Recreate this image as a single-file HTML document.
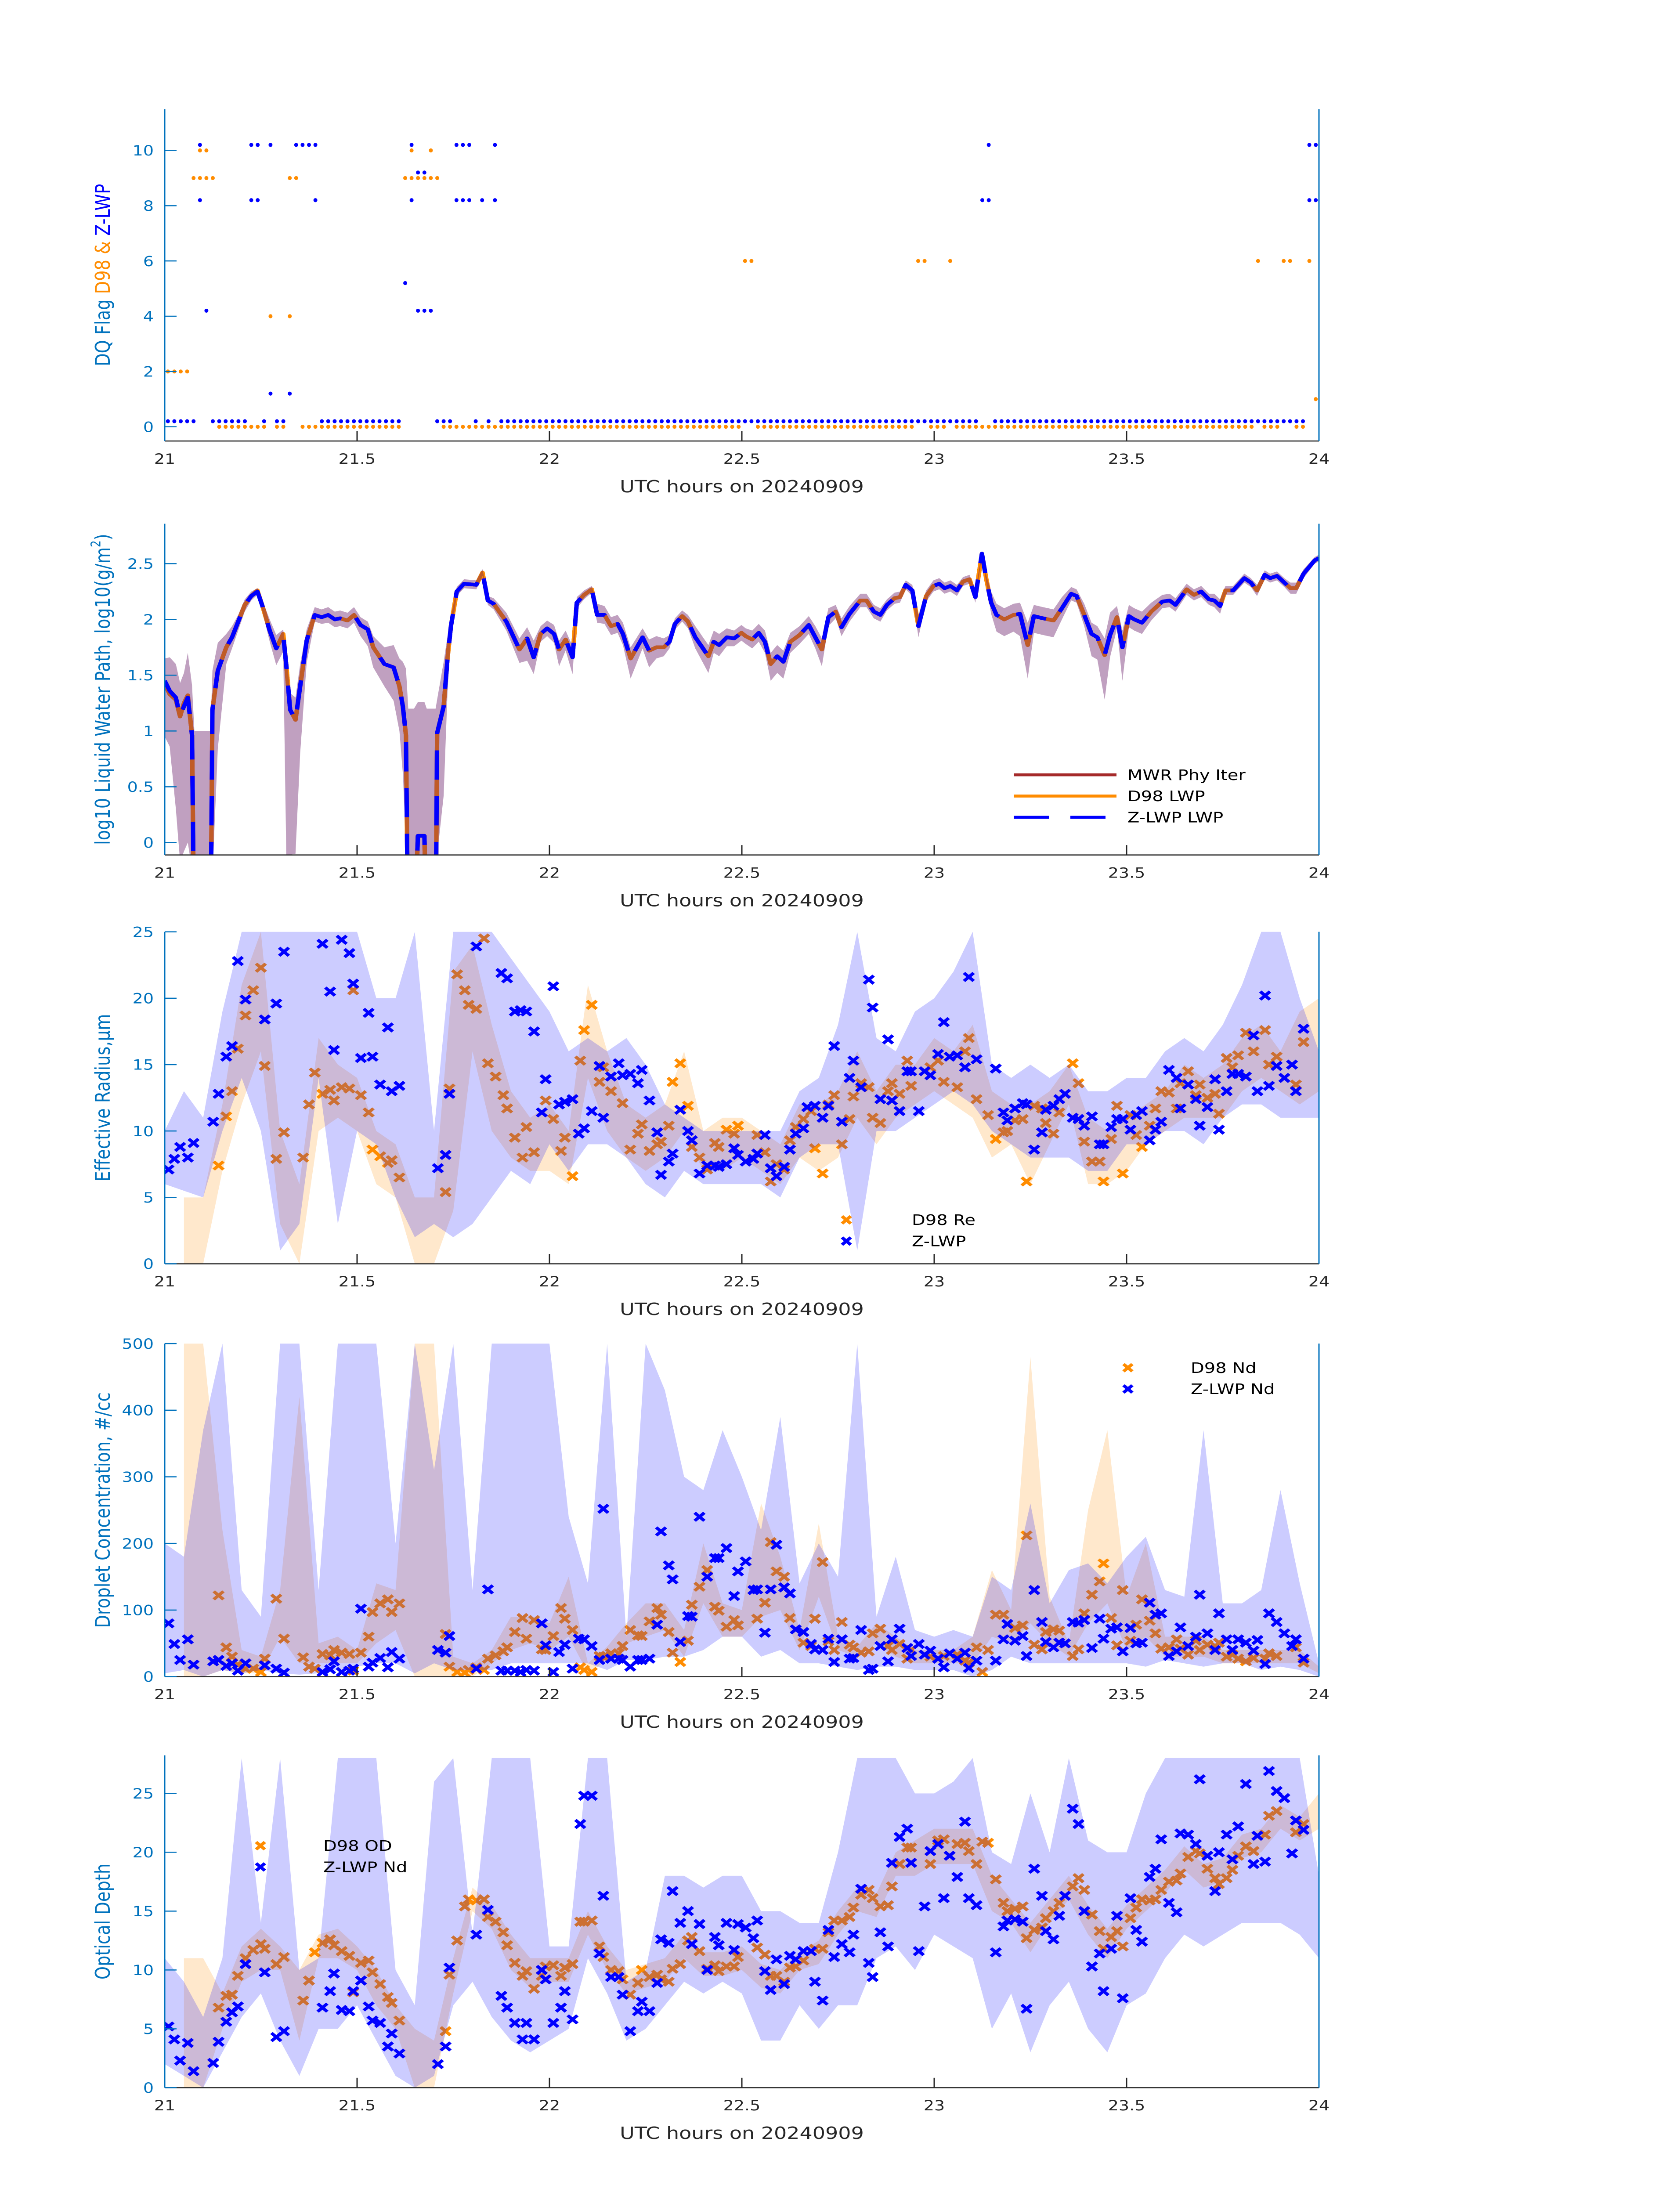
<!DOCTYPE html>
<html><head><meta charset="utf-8"><title>Cloud retrievals 20240909</title>
<style>
html,body{margin:0;padding:0;background:#fff;width:100%;height:100%;overflow:hidden;}
svg{display:block;position:absolute;left:0;top:0;width:100vw;height:100vh;}
text{font-family:"DejaVu Sans","Liberation Sans",sans-serif;}
</style></head>
<body>
<svg id="fig" xmlns="http://www.w3.org/2000/svg" viewBox="0 0 3825 6000" preserveAspectRatio="none">
<rect x="0" y="0" width="3825" height="6000" fill="#fff"/>
<defs>
<clipPath id="c1"><rect x="375" y="298" width="2628" height="907"/></clipPath>
<clipPath id="c2"><rect x="375" y="1431" width="2628" height="905"/></clipPath>
<clipPath id="c3"><rect x="375" y="2546" width="2628" height="907"/></clipPath>
<clipPath id="c4"><rect x="375" y="3671" width="2628" height="910"/></clipPath>
<clipPath id="c5"><rect x="375" y="4796" width="2628" height="908"/></clipPath>
</defs>
</svg>
<script>
// ---------------- DATA ----------------
const xTicks = [21, 21.5, 22, 22.5, 23, 23.5, 24];
const xTickLabels = ['21', '21.5', '22', '22.5', '23', '23.5', '24'];

// Panel 1: DQ flags, runs of minute indices [start, end, flag]
const dqZRuns = [[0,4,0],[7,12,0],[15,15,0],[17,18,0],[24,36,0],[42,44,0],[48,48,0],[50,50,0],[52,126,0],[129,177,0],
 [5,5,10],[13,14,10],[16,16,10],[20,23,10],[38,38,10],[45,47,10],[51,51,10],[128,128,10],[178,179,10],
 [5,5,8],[13,14,8],[23,23,8],[38,38,8],[45,47,8],[49,49,8],[51,51,8],[127,128,8],[178,179,8],
 [39,40,9],[37,37,5],[6,6,4],[39,41,4],[16,16,1],[19,19,1]];
const dqDRuns = [[8,15,0],[17,18,0],[21,36,0],[43,89,0],[92,116,0],[119,121,0],[123,169,0],[171,173,0],[176,177,0],
 [5,6,10],[38,38,10],[41,41,10],[4,7,9],[19,20,9],[37,42,9],[16,16,4],[19,19,4],[0,3,2],
 [90,91,6],[117,118,6],[122,122,6],[170,170,6],[174,175,6],[178,178,6],[179,179,1]];
const dq1Ticks = [0,2,4,6,8,10];

// Panel 2: LWP
const lwpT = [21.000,21.013,21.029,21.040,21.050,21.060,21.071,21.077,21.100,21.119,21.124,21.138,21.160,21.175,21.191,21.208,21.225,21.241,21.254,21.273,21.290,21.308,21.316,21.326,21.340,21.352,21.369,21.390,21.408,21.425,21.442,21.456,21.475,21.492,21.509,21.528,21.542,21.571,21.595,21.610,21.619,21.627,21.633,21.648,21.658,21.675,21.681,21.704,21.708,21.725,21.735,21.744,21.759,21.778,21.810,21.826,21.840,21.855,21.888,21.922,21.942,21.959,21.977,21.994,22.012,22.025,22.042,22.060,22.071,22.090,22.110,22.124,22.143,22.160,22.177,22.191,22.211,22.242,22.259,22.278,22.297,22.312,22.326,22.345,22.360,22.379,22.413,22.427,22.441,22.461,22.480,22.499,
22.510,22.527,22.544,22.560,22.575,22.592,22.608,22.626,22.650,22.674,22.691,22.708,22.725,22.744,22.759,22.780,22.808,22.824,22.843,22.860,22.877,22.897,22.911,22.926,22.943,22.959,22.979,22.998,23.013,23.027,23.042,23.059,23.075,23.092,23.107,23.124,23.136,23.148,23.162,23.182,23.206,23.223,23.243,23.259,23.283,23.310,23.332,23.356,23.370,23.390,23.409,23.424,23.443,23.457,23.475,23.489,23.506,23.520,23.540,23.564,23.593,23.612,23.627,23.656,23.675,23.694,23.714,23.728,23.743,23.757,23.777,23.806,23.823,23.839,23.859,23.873,23.891,23.910,23.926,23.941,23.960,23.989,24.000];
const lwpZ = [1.45,1.36,1.30,1.13,1.22,1.30,0.96,-1,-1,-1,1.19,1.54,1.75,1.84,1.98,2.13,2.21,2.25,2.12,1.90,1.74,1.86,1.59,1.19,1.10,1.40,1.81,2.04,2.02,2.04,2.00,2.01,1.99,2.04,1.95,1.91,1.75,1.60,1.57,1.40,1.22,0.96,-1,-1,0.06,0.06,-1,-1,0.98,1.22,1.65,1.94,2.25,2.32,2.31,2.42,2.17,2.14,1.98,1.73,1.83,1.66,1.87,1.92,1.87,1.73,1.82,1.66,2.15,2.22,2.27,2.04,2.04,1.94,1.96,1.87,1.65,1.84,1.72,1.75,1.75,1.80,1.96,2.03,1.98,1.84,1.67,1.80,1.77,1.84,1.83,1.88,
1.85,1.82,1.88,1.80,1.60,1.67,1.62,1.80,1.86,1.95,1.84,1.73,2.02,2.07,1.93,2.05,2.17,2.17,2.07,2.04,2.13,2.19,2.20,2.31,2.26,1.94,2.21,2.30,2.32,2.28,2.30,2.26,2.34,2.36,2.20,2.59,2.35,2.15,2.04,2.00,2.04,2.05,1.77,2.03,2.01,1.99,2.10,2.23,2.21,2.04,1.87,1.84,1.68,1.86,2.02,1.75,2.03,2.00,1.97,2.07,2.16,2.17,2.13,2.27,2.22,2.25,2.18,2.17,2.12,2.26,2.26,2.37,2.33,2.26,2.40,2.37,2.39,2.33,2.28,2.28,2.41,2.53,2.55];
const lwpD98 = [1.42,1.33,1.28,1.13,1.25,1.32,0.96,-1,-1,-1,1.19,1.54,1.75,1.84,1.98,2.13,2.21,2.26,2.12,1.90,1.74,1.87,1.59,1.19,1.10,1.40,1.81,2.04,2.02,2.04,2.00,2.01,1.99,2.04,1.95,1.91,1.75,1.60,1.57,1.40,1.22,0.96,-1,-1,0.06,0.06,-1,-1,0.98,1.22,1.65,1.94,2.25,2.32,2.31,2.42,2.17,2.14,1.98,1.73,1.83,1.66,1.87,1.92,1.87,1.73,1.82,1.66,2.15,2.22,2.27,2.04,2.04,1.94,1.96,1.87,1.65,1.84,1.72,1.75,1.75,1.80,1.96,2.03,1.98,1.84,1.67,1.80,1.77,1.84,1.83,1.88,
1.85,1.82,1.88,1.80,1.60,1.67,1.62,1.80,1.86,1.95,1.84,1.73,2.02,2.07,1.93,2.05,2.17,2.17,2.07,2.04,2.13,2.19,2.20,2.31,2.26,1.94,2.21,2.30,2.32,2.28,2.30,2.26,2.34,2.36,2.20,2.59,2.35,2.15,2.04,2.00,2.04,2.05,1.77,2.03,2.01,1.99,2.10,2.23,2.21,2.04,1.87,1.84,1.68,1.86,2.02,1.75,2.03,2.00,1.97,2.07,2.16,2.17,2.13,2.27,2.22,2.25,2.18,2.17,2.12,2.26,2.26,2.37,2.33,2.26,2.40,2.37,2.39,2.33,2.28,2.28,2.41,2.53,2.55];
const lwpErrLo = [0.5,0.5,1.0,1.3,1.3,1.3,1.2,0,0,0,1.5,0.7,0.15,0.1,0.08,0.06,0.04,0.03,0.05,0.1,0.15,0.15,1.7,1.3,1.2,0.6,0.2,0.06,0.06,0.07,0.07,0.07,0.07,0.07,0.1,0.15,0.18,0.2,0.3,0.4,0.6,1.0,0,0,0.2,0.2,0,0,1.1,0.8,0.3,0.08,0.04,0.04,0.04,0.03,0.04,0.05,0.08,0.12,0.2,0.15,0.07,0.07,0.08,0.15,0.1,0.15,0.05,0.04,0.03,0.07,0.08,0.08,0.08,0.1,0.18,0.1,0.15,0.1,0.08,0.06,0.05,0.05,0.06,0.1,0.15,0.1,0.1,0.08,0.07,0.07,
0.07,0.08,0.08,0.1,0.15,0.15,0.15,0.1,0.08,0.08,0.1,0.15,0.08,0.06,0.08,0.07,0.06,0.06,0.06,0.06,0.05,0.05,0.05,0.04,0.05,0.1,0.05,0.05,0.05,0.05,0.05,0.05,0.04,0.04,0.05,0.02,0.04,0.1,0.15,0.15,0.15,0.2,0.3,0.15,0.15,0.15,0.1,0.06,0.06,0.1,0.2,0.2,0.4,0.2,0.1,0.3,0.1,0.1,0.1,0.08,0.06,0.06,0.06,0.05,0.05,0.05,0.05,0.06,0.07,0.04,0.04,0.04,0.04,0.05,0.04,0.04,0.04,0.04,0.05,0.05,0.04,0.03,0.03];
const lwpErrHi = [0.2,0.3,0.3,0.3,0.3,0.4,0.45,2.0,2.0,2.0,0.35,0.25,0.12,0.1,0.06,0.05,0.04,0.03,0.05,0.1,0.12,0.05,0.1,0.15,0.2,0.2,0.1,0.07,0.07,0.07,0.07,0.07,0.07,0.07,0.07,0.07,0.1,0.15,0.2,0.25,0.4,0.6,2.2,2.2,1.2,1.2,2.2,2.2,0.3,0.4,0.2,0.08,0.04,0.04,0.04,0.03,0.04,0.05,0.08,0.1,0.1,0.15,0.07,0.07,0.08,0.08,0.08,0.1,0.05,0.04,0.03,0.1,0.08,0.08,0.08,0.1,0.1,0.08,0.1,0.1,0.08,0.06,0.05,0.05,0.06,0.1,0.1,0.1,0.1,0.08,0.07,0.07,
0.07,0.08,0.08,0.1,0.1,0.1,0.1,0.08,0.08,0.08,0.1,0.1,0.08,0.06,0.08,0.07,0.06,0.06,0.06,0.06,0.05,0.05,0.05,0.04,0.05,0.1,0.05,0.05,0.05,0.05,0.05,0.05,0.04,0.04,0.05,0.02,0.04,0.1,0.1,0.1,0.1,0.1,0.2,0.1,0.1,0.1,0.1,0.06,0.06,0.1,0.1,0.1,0.15,0.2,0.1,0.15,0.1,0.1,0.1,0.08,0.06,0.06,0.06,0.05,0.05,0.05,0.05,0.06,0.06,0.04,0.04,0.04,0.04,0.05,0.04,0.04,0.04,0.04,0.05,0.05,0.04,0.03,0.03];
const lwpTicks = [0,0.5,1,1.5,2,2.5];
const lwpTickLabels = ['0','0.5','1','1.5','2','2.5'];

// Band grid shared by panels 3-5
const bandT = [21.00,21.05,21.10,21.15,21.20,21.25,21.30,21.35,21.40,21.45,21.50,21.55,21.60,21.65,21.70,21.75,21.80,21.85,21.90,21.95,22.00,22.05,22.10,22.15,22.20,22.25,22.30,22.35,22.40,22.45,22.50,22.55,22.60,22.65,22.70,22.75,22.80,22.85,22.90,22.95,23.00,23.05,23.10,23.15,23.20,23.25,23.30,23.35,23.40,23.45,23.50,23.55,23.60,23.65,23.70,23.75,23.80,23.85,23.90,23.95,24.00];

// Panel 3: effective radius
const reZT = [21.01,21.025,21.04,21.06,21.075,21.126,21.14,21.16,21.175,21.19,21.21,21.26,21.29,21.31,21.41,21.43,21.44,21.46,21.48,21.49,21.51,21.53,21.54,21.56,21.58,21.59,21.61,21.71,21.73,21.74,21.81,21.875,21.89,21.91,21.925,21.94,21.96,21.98,21.99,22.01,22.025,22.04,22.06,22.076,22.09,22.11,22.13,22.14,22.16,22.18,22.19,22.21,22.23,22.24,22.26,22.28,22.29,22.31,22.32,22.34,22.36,22.37,22.39,22.41,22.43,22.44,22.46,22.48,22.49,
22.51,22.53,22.54,22.56,22.575,22.59,22.61,22.625,22.64,22.66,22.67,22.69,22.71,22.725,22.74,22.76,22.78,22.79,22.81,22.83,22.84,22.86,22.88,22.89,22.91,22.93,22.94,22.96,22.975,22.99,23.01,23.025,23.04,23.06,23.08,23.09,23.11,23.16,23.18,23.19,23.21,23.23,23.24,23.26,23.28,23.29,23.31,23.325,23.34,23.36,23.375,23.39,23.41,23.43,23.44,23.46,23.475,23.49,23.51,23.525,23.54,23.56,23.575,23.59,23.61,23.63,23.64,23.66,23.68,23.69,23.71,23.73,23.74,23.76,23.775,23.79,23.81,23.83,23.84,23.86,23.87,23.89,23.91,23.93,23.94,23.96];
const reZ = [7.1,7.9,8.8,8.0,9.1,10.7,12.8,15.6,16.4,22.8,19.9,18.4,19.6,23.5,24.1,20.5,16.1,24.4,23.4,21.1,15.5,18.9,15.6,13.5,17.8,13.0,13.4,7.2,8.2,12.8,23.9,21.9,21.5,19.0,19.1,19.0,17.5,11.4,13.9,20.9,12.0,12.2,12.4,9.8,10.2,11.5,14.9,11.0,14.1,15.1,14.2,14.3,13.6,14.6,12.3,9.9,6.7,7.7,8.3,11.6,10.0,9.3,6.8,7.4,7.4,7.3,7.5,8.7,8.2,
7.7,7.9,8.3,9.7,7.2,6.6,7.3,8.6,9.8,10.2,11.8,11.9,11.0,11.9,16.4,10.7,14.0,15.3,13.3,21.4,19.3,12.4,16.9,12.3,11.5,14.5,14.5,11.5,14.5,14.2,15.8,18.2,15.6,15.7,14.8,21.6,15.4,14.7,11.4,10.8,11.7,12.1,12.0,8.6,9.9,11.6,11.9,12.4,12.8,11.0,10.9,10.4,11.1,9.0,9.0,10.3,10.9,10.9,10.1,11.2,11.5,9.3,10.1,10.7,14.6,14.0,11.7,13.5,12.4,10.4,11.8,13.9,10.1,13.0,14.3,14.3,14.1,17.2,13.0,20.2,13.4,14.9,14.0,15.0,13.0,17.7];
const reDT = [21.14,21.16,21.175,21.19,21.21,21.23,21.25,21.26,21.29,21.31,21.36,21.375,21.39,21.41,21.43,21.44,21.46,21.48,21.49,21.51,21.53,21.54,21.56,21.58,21.59,21.61,21.73,21.74,21.76,21.78,21.79,21.81,21.83,21.84,21.86,21.88,21.89,21.91,21.93,21.94,21.96,21.99,22.01,22.03,22.04,22.06,22.08,22.09,22.11,22.13,22.14,22.16,22.19,22.21,22.23,22.24,22.26,22.28,22.29,22.31,22.32,22.34,22.36,22.37,22.39,22.41,22.43,22.44,22.46,22.48,22.49,
22.54,22.56,22.575,22.59,22.61,22.625,22.64,22.66,22.68,22.69,22.71,22.725,22.74,22.76,22.78,22.79,22.81,22.83,22.84,22.86,22.88,22.89,22.91,22.93,22.94,22.99,23.01,23.025,23.06,23.08,23.09,23.11,23.14,23.16,23.18,23.19,23.21,23.23,23.24,23.26,23.28,23.29,23.31,23.325,23.36,23.375,23.39,23.41,23.43,23.44,23.46,23.475,23.49,23.51,23.525,23.54,23.56,23.575,23.59,23.61,23.63,23.64,23.66,23.68,23.69,23.71,23.73,23.74,23.76,23.775,23.79,23.81,23.83,23.86,23.87,23.89,23.94,23.96];
const reD = [7.4,11.1,13.0,16.2,18.7,20.6,22.3,14.9,7.9,9.9,8.0,12.0,14.4,12.8,13.1,12.3,13.3,13.2,20.6,12.7,11.4,8.6,8.1,7.6,7.8,6.5,5.4,13.2,21.8,20.6,19.5,19.2,24.5,15.1,14.1,12.7,11.7,9.5,8.0,10.3,8.4,12.3,10.9,8.5,9.5,6.6,15.3,17.6,19.5,13.7,14.8,13.0,12.1,8.6,9.8,10.5,8.5,9.0,9.2,10.4,13.7,15.1,11.9,8.8,8.0,7.1,9.1,8.8,10.1,9.8,10.4,
9.7,8.4,6.2,7.5,7.1,9.3,10.3,10.9,11.5,8.7,6.8,12.0,12.7,9.0,10.9,12.6,13.6,13.3,11.0,10.6,13.0,13.6,12.8,15.3,13.4,14.8,15.3,13.7,13.3,16.0,17.0,12.4,11.2,9.4,9.9,10.0,10.8,10.9,6.2,11.9,11.7,10.6,9.8,11.4,15.1,13.6,9.2,7.7,7.7,6.2,9.4,11.9,6.8,11.2,9.7,8.8,10.4,11.7,13.0,12.9,11.7,13.6,14.5,12.7,13.5,12.5,12.8,11.3,15.5,14.8,15.7,17.4,16.0,17.6,15.0,15.6,13.5,16.7];
const reZLo = [6,5.5,5,10,14,10,1,3,14,3,10,9,5,2,3,2,3,5,7,6,9,7,9,9,8,6,5,7,6,6,6,6,5,8,9,9,1,10,10,11,12,13,12,10,9,8,8,8,7,7,9,9,10,10,9,11,12,12,11,11,11];
const reZHi = [10,13,11,19,25,25,25,25,25,25,25,20,20,25,10,25,25,25,23,21,19,16,17,16,17,15,12,11,10,10,10,10,10,13,14,18,25,17,16,19,20,22,25,15,14,15,14,15,13,13,14,14,16,17,16,18,21,25,25,20,16];
const reDLo = [null,0,0,7,12,16,3,0,10,11,10,6,5,0,0,4,16,10,8,7,7,6,14,10,8,7,8,10,7,7,8,7,6,8,7,8,11,9,11,12,13,12,11,8,9,6,9,12,6,6,7,9,10,11,11,11,13,14,13,12,13];
const reDHi = [null,5,5,12,21,25,10,6,17,15,14,10,9,5,5,22,24,18,13,11,12,10,21,16,12,11,12,16,10,11,11,10,9,12,12,13,16,13,15,15,17,16,18,13,12,12,13,15,11,10,11,12,13,15,14,15,17,18,16,19,20];
const reTicks = [0,5,10,15,20,25];

// Panel 4: droplet concentration
const ndZT = [21.01,21.025,21.04,21.06,21.075,21.126,21.14,21.16,21.175,21.19,21.21,21.26,21.29,21.31,21.41,21.43,21.44,21.46,21.48,21.49,21.51,21.53,21.54,21.56,21.58,21.59,21.61,21.71,21.73,21.74,21.81,21.84,21.875,21.89,21.91,21.925,21.94,21.96,21.98,21.99,22.01,22.025,22.04,22.06,22.076,22.09,22.11,22.13,22.14,22.16,22.18,22.19,22.21,22.23,22.24,22.26,22.28,22.29,22.31,22.32,22.34,22.36,22.37,22.39,22.41,22.43,22.44,22.46,22.48,22.49,
22.51,22.53,22.54,22.56,22.575,22.59,22.61,22.625,22.64,22.66,22.68,22.69,22.71,22.725,22.74,22.76,22.78,22.79,22.81,22.83,22.84,22.86,22.88,22.89,22.91,22.93,22.94,22.96,22.975,22.99,23.01,23.025,23.04,23.06,23.08,23.09,23.11,23.16,23.18,23.19,23.21,23.23,23.24,23.26,23.28,23.29,23.31,23.325,23.34,23.36,23.375,23.39,23.41,23.43,23.44,23.46,23.475,23.49,23.51,23.525,23.54,23.56,23.575,23.59,23.61,23.63,23.64,23.66,23.68,23.69,23.71,23.73,23.74,23.76,23.775,23.79,23.81,23.83,23.84,23.86,23.87,23.89,23.91,23.93,23.94,23.96];
const ndZ = [80,49,25,56,18,23,25,16,20,9,20,17,12,6,7,11,23,7,9,12,102,15,21,28,14,37,27,40,36,61,12,131,9,9,9,7,10,9,80,47,7,37,48,12,57,56,46,25,252,27,27,25,15,25,25,27,78,218,167,146,52,91,90,240,150,178,178,193,121,158,
173,130,131,66,131,198,134,125,71,67,49,41,40,57,22,56,27,28,70,10,12,46,23,56,72,43,31,49,33,39,27,14,35,27,36,13,24,24,56,79,54,61,31,130,82,52,44,51,50,82,81,85,43,87,57,72,74,38,73,50,51,111,93,95,31,38,74,46,60,123,65,40,95,56,40,56,51,39,55,19,95,82,65,46,56,27];
const ndDT = [21.14,21.16,21.175,21.19,21.21,21.23,21.25,21.26,21.29,21.31,21.36,21.375,21.39,21.41,21.43,21.44,21.46,21.48,21.49,21.51,21.53,21.54,21.56,21.58,21.59,21.61,21.73,21.74,21.76,21.78,21.79,21.81,21.83,21.84,21.86,21.88,21.89,21.91,21.93,21.94,21.96,21.98,21.99,22.01,22.03,22.04,22.06,22.08,22.09,22.11,22.13,22.14,22.16,22.18,22.19,22.21,22.23,22.24,22.26,22.28,22.29,22.31,22.32,22.34,22.36,22.37,22.39,22.41,22.43,22.44,22.46,22.48,22.49,
22.54,22.56,22.575,22.59,22.61,22.625,22.66,22.68,22.69,22.71,22.725,22.74,22.76,22.78,22.79,22.81,22.83,22.84,22.86,22.88,22.89,22.91,22.93,22.94,22.99,23.025,23.06,23.08,23.09,23.11,23.125,23.14,23.16,23.18,23.21,23.23,23.24,23.26,23.28,23.29,23.31,23.325,23.36,23.375,23.39,23.41,23.43,23.44,23.46,23.475,23.49,23.51,23.525,23.54,23.56,23.575,23.59,23.61,23.63,23.64,23.66,23.68,23.69,23.71,23.73,23.74,23.76,23.775,23.79,23.81,23.83,23.86,23.87,23.89,23.94,23.96];
const ndD = [122,44,30,18,12,12,7,27,117,57,29,15,12,34,32,40,36,34,9,36,60,97,110,116,97,110,64,15,7,6,10,14,10,27,32,38,44,67,88,57,85,41,40,61,103,87,70,14,10,7,31,30,35,35,46,70,62,61,83,103,93,67,36,22,54,108,135,160,105,99,75,85,77,
87,111,202,158,150,88,51,46,87,172,53,40,82,48,44,36,38,65,72,46,40,49,27,40,30,31,33,24,21,44,7,40,93,93,73,77,212,48,41,67,71,69,31,41,95,123,143,170,88,47,130,54,78,116,84,65,42,44,56,42,33,54,40,48,46,51,30,33,27,23,28,27,35,31,44,21];
const ndZLo = [5,10,0,10,5,10,5,3,5,10,15,20,20,5,20,10,10,10,20,20,20,20,20,10,25,25,30,30,40,60,60,30,40,20,20,15,10,15,15,10,10,10,0,10,30,20,20,20,20,20,20,15,25,20,15,20,20,10,15,10,0];
const ndZHi = [200,180,370,500,130,90,500,500,130,500,500,500,200,500,310,500,130,500,500,500,500,240,140,500,60,500,430,300,280,370,300,220,390,140,200,150,500,90,180,70,60,70,60,150,130,260,110,160,170,140,180,210,130,120,370,110,110,130,280,140,20];
const ndDLo = [null,0,0,10,5,5,60,20,20,20,20,50,70,0,0,0,0,20,40,50,40,60,5,25,50,60,70,30,110,60,60,90,100,40,120,40,30,50,30,20,20,20,20,60,50,80,50,30,80,110,40,60,30,30,30,20,20,20,20,20,5];
const ndDHi = [null,500,500,220,40,30,130,420,50,60,40,140,130,500,500,30,20,40,90,90,80,150,20,45,80,110,110,70,200,110,100,260,180,70,230,60,45,80,60,40,40,40,60,160,100,480,120,50,250,370,120,200,60,60,60,40,40,40,40,40,15];
const ndTicks = [0,100,200,300,400,500];

// Panel 5: optical depth
const odZT = [21.01,21.025,21.04,21.06,21.075,21.126,21.14,21.16,21.175,21.19,21.21,21.26,21.29,21.31,21.41,21.43,21.44,21.46,21.48,21.49,21.51,21.53,21.54,21.56,21.58,21.59,21.61,21.71,21.73,21.74,21.81,21.84,21.875,21.89,21.91,21.93,21.94,21.96,21.98,21.99,22.01,22.03,22.04,22.06,22.08,22.09,22.11,22.13,22.14,22.16,22.18,22.19,22.21,22.23,22.24,22.26,22.28,22.29,22.31,22.32,22.34,22.36,22.37,22.39,22.41,22.43,22.44,22.46,22.48,22.49,
22.51,22.53,22.54,22.56,22.575,22.59,22.61,22.625,22.64,22.66,22.68,22.69,22.71,22.725,22.74,22.76,22.78,22.79,22.81,22.83,22.84,22.86,22.88,22.89,22.91,22.93,22.94,22.96,22.975,22.99,23.01,23.025,23.04,23.06,23.08,23.09,23.11,23.16,23.18,23.19,23.21,23.23,23.24,23.26,23.28,23.29,23.31,23.325,23.34,23.36,23.375,23.39,23.41,23.43,23.44,23.46,23.475,23.49,23.51,23.525,23.54,23.56,23.575,23.59,23.61,23.63,23.64,23.66,23.68,23.69,23.71,23.73,23.74,23.76,23.775,23.79,23.81,23.83,23.84,23.86,23.87,23.89,23.91,23.93,23.94,23.96];
const odZ = [5.2,4.1,2.3,3.8,1.4,2.1,3.9,5.6,6.4,6.9,10.5,9.8,4.3,4.8,6.8,8.2,9.7,6.6,6.5,8.2,9.1,6.9,5.7,5.5,3.5,4.6,2.9,2.0,3.5,10.2,13.0,15.1,7.8,6.8,5.5,4.1,5.5,4.1,10.0,9.2,5.5,6.8,8.2,5.8,22.4,24.8,24.8,11.4,16.3,9.4,9.4,7.9,4.8,6.5,7.3,6.5,8.9,12.6,12.3,16.7,14.0,15.0,12.2,13.9,10.0,12.8,12.1,14.0,11.7,13.9,
13.6,12.7,14.2,9.9,8.3,10.9,8.8,11.2,10.9,11.6,11.6,9.0,7.4,13.4,11.1,12.2,11.5,13.0,16.9,10.6,9.4,13.2,12.0,19.1,21.3,22.0,19.1,11.6,15.4,20.1,20.7,16.1,19.7,17.9,22.6,16.1,15.5,11.5,13.7,14.2,14.3,14.1,6.7,18.6,16.3,13.3,12.6,14.6,16.3,23.7,22.4,15.0,10.3,11.4,8.2,11.8,14.6,7.6,16.1,13.4,12.4,17.9,18.6,21.1,15.7,14.9,21.6,21.5,20.7,26.2,19.7,16.7,20.0,21.5,19.4,22.2,25.8,19.0,21.4,19.2,26.9,25.2,24.6,19.9,22.7,21.9];
const odDT = [21.14,21.16,21.175,21.19,21.21,21.23,21.25,21.26,21.29,21.31,21.36,21.375,21.39,21.41,21.43,21.44,21.46,21.48,21.49,21.51,21.53,21.54,21.56,21.58,21.59,21.61,21.73,21.74,21.76,21.78,21.79,21.81,21.83,21.84,21.86,21.88,21.89,21.91,21.93,21.94,21.96,21.98,21.99,22.01,22.03,22.04,22.06,22.08,22.09,22.11,22.13,22.14,22.16,22.18,22.19,22.21,22.23,22.24,22.26,22.28,22.29,22.31,22.32,22.34,22.36,22.37,22.39,22.41,22.43,22.44,22.46,22.48,22.49,
22.54,22.56,22.575,22.59,22.61,22.625,22.64,22.66,22.69,22.71,22.725,22.74,22.76,22.78,22.79,22.81,22.83,22.84,22.86,22.88,22.89,22.91,22.93,22.94,22.99,23.01,23.025,23.06,23.08,23.09,23.11,23.125,23.14,23.16,23.18,23.19,23.21,23.23,23.24,23.26,23.28,23.29,23.31,23.325,23.36,23.375,23.39,23.41,23.43,23.44,23.46,23.475,23.49,23.51,23.525,23.54,23.56,23.575,23.59,23.61,23.63,23.64,23.66,23.68,23.69,23.71,23.73,23.74,23.76,23.775,23.79,23.81,23.83,23.86,23.87,23.89,23.94,23.96];
const odD = [6.8,7.8,7.9,9.5,11.0,11.7,12.2,11.8,10.5,11.1,7.4,9.1,11.5,12.3,12.6,12.1,11.6,11.2,8.1,10.6,10.8,9.8,8.8,7.7,7.2,5.7,4.8,9.6,12.5,15.4,16.0,15.9,16.0,14.5,14.1,13.2,12.1,10.6,9.5,9.9,8.4,9.5,10.3,10.4,9.5,10.2,10.5,14.1,14.1,14.2,12.0,11.1,10.0,9.9,9.2,7.9,8.9,10.0,9.4,9.6,9.2,9.0,10.1,10.5,12.5,12.8,11.6,10.1,10.4,9.9,10.3,10.3,11.1,
11.9,11.3,9.5,9.5,9.0,10.2,10.3,10.8,11.8,11.8,13.2,14.2,14.2,14.5,15.3,16.4,16.8,16.1,15.4,15.5,17.1,19.0,20.4,20.4,19.0,21.0,21.1,20.7,20.8,20.1,19.0,20.9,20.8,17.7,15.7,15.0,15.2,15.4,12.7,13.4,13.6,14.4,15.0,15.7,17.1,17.8,16.8,14.7,13.3,11.8,12.8,13.3,12.0,14.4,15.3,16.0,15.9,16.0,16.8,17.5,17.6,18.2,19.6,20.1,19.9,18.6,17.8,17.3,17.8,18.5,19.7,20.5,20.1,21.5,23.1,23.5,21.7,22.4];
const odZLo = [2,1,0,3,6,8,4,1,5,5,7,4,1,0,1,7,9,6,4,3,4,5,11,8,4,5,7,9,8,9,8,4,4,7,5,7,7,11,12,10,13,12,11,5,8,3,7,9,5,3,7,8,11,13,12,13,14,14,14,13,11];
const odZHi = [11,9,6,11,28,14,28,10,11,28,28,28,10,7,26,28,13,28,28,28,12,12,28,28,9,10,18,18,17,18,18,15,15,14,14,20,28,28,28,25,25,26,28,20,19,25,20,28,21,20,20,25,28,28,28,28,28,28,28,28,18];
const odDLo = [null,0,0,5,9,10,10,4,11,11,10,7,5,0,0,8,15,13.5,10,8.5,9,9,13,10,8,8.5,9,11,9.5,9.5,10,8.5,8,10,10.5,13,15,14.5,18,18,19,19,19,15,14,11.5,14,16,13,11,13.5,15,16.5,18.5,17,17.5,19.5,20,22,21,22];
const odDHi = [null,11,11,8,12,13.5,12,10,13,13.5,12,10,7,5,4,11,17,15.5,13,11,11,11,15,12,10,10.5,11,13,11.5,11.5,12,10.5,10,11.5,12.5,15,17,16.5,20,21,22,22,22,18,16,14,16,18,15.5,13.5,15.5,17,18.5,20.5,19,19.5,21.5,22,24,23,25];
const odTicks = [0,5,10,15,20,25];

// ---------------- RENDER ----------------
const NS = 'http://www.w3.org/2000/svg';
const svg = document.getElementById('fig');
const X0 = 375, X1 = 3003;
function xs(h){ return X0 + (h - 21) * (X1 - X0) / 3; }
function el(tag, attrs, parent){
  const e = document.createElementNS(NS, tag);
  for (const k in attrs) e.setAttribute(k, attrs[k]);
  (parent || svg).appendChild(e);
  return e;
}
const ORANGE = '#FF8C00', BLUE = '#0000FF', AXBLUE = '#0072BD', DARK = '#262626';

function makeY(p){ return v => p.yZero - v * p.k; }

function drawAxes(p, ticks, labels, ylabelParts, idx){
  const ys = makeY(p);
  const g = el('g', {});
  
  
  xTicks.forEach((t, i) => {
    const tk = el('line', {x1: xs(t), x2: xs(t), y1: p.bottom, y2: p.bottom - 27, stroke: DARK, 'stroke-width': 3}, g);
    
    
    const tl = el('text', {x: xs(t), y: p.bottom + 62, 'font-size': 38, fill: DARK, 'text-anchor': 'middle'}, g);
    tl.textContent = xTickLabels[i];
    
    
  });
  const bx = el('line', {x1: X0, x2: X1, y1: p.bottom, y2: p.bottom, stroke: DARK, 'stroke-width': 3}, g);
  
  
  const ly = el('line', {x1: X0, x2: X0, y1: p.top, y2: p.bottom, stroke: AXBLUE, 'stroke-width': 3}, g);
  
  
  const ry = el('line', {x1: X1, x2: X1, y1: p.top, y2: p.bottom, stroke: AXBLUE, 'stroke-width': 3}, g);
  
  
  ticks.forEach((t, i) => {
    const y = ys(t);
    const tk = el('line', {x1: X0, x2: X0 + 27, y1: y, y2: y, stroke: AXBLUE, 'stroke-width': 3}, g);
    
    
    const tl = el('text', {x: X0 - 25, y: y + 14, 'font-size': 38, fill: AXBLUE, 'text-anchor': 'end'}, g);
    tl.textContent = labels[i];
    
    
  });
  const xl = el('text', {x: (X0 + X1) / 2, y: p.bottom + 140, 'font-size': 46, fill: DARK, 'text-anchor': 'middle'}, g);
  xl.textContent = 'UTC hours on 20240909';
  
  
  const cy = (p.top + p.bottom) / 2;
  const yl = el('text', {x: 237, y: cy, 'font-size': 46, 'text-anchor': 'middle', transform: 'rotate(-90 237 ' + cy + ')', 'dominant-baseline': 'middle'}, g);
  
  
  ylabelParts.forEach(pt => {
    const ts = el('tspan', {fill: pt[1]}, yl);
    ts.textContent = pt[0];
    if (pt[2]) { ts.setAttribute('baseline-shift', 'super'); ts.setAttribute('font-size', 30); }
  });
}

function bandPath(T, lo, hi, ys){
  const segs = []; let cur = [];
  T.forEach((t, i) => {
    if (lo[i] === null || hi[i] === null) { if (cur.length) segs.push(cur); cur = []; }
    else cur.push(i);
  });
  if (cur.length) segs.push(cur);
  return segs.map(s => {
    const up = s.map(i => xs(T[i]).toFixed(1) + ',' + ys(hi[i]).toFixed(1));
    const dn = s.slice().reverse().map(i => xs(T[i]).toFixed(1) + ',' + ys(lo[i]).toFixed(1));
    return 'M' + up.join('L') + 'L' + dn.join('L') + 'Z';
  }).join('');
}

function drawX(g, T, V, ys, color, name){
  T.forEach((t, i) => {
    const x = xs(t), y = ys(V[i]), s = 11;
    const m = el('path', {d: `M${x-s},${y-s}L${x+s},${y+s}M${x-s},${y+s}L${x+s},${y-s}`, stroke: color, 'stroke-width': 8, fill: 'none'}, g);
    
    
  });
}

function legendX(x, y, tx, entries, idx){
  const g = el('g', {});
  
  
  entries.forEach((e, i) => {
    const yy = y + i * 58, s = 10;
    const m = el('path', {d: `M${x-s},${yy-s}L${x+s},${yy+s}M${x-s},${yy+s}L${x+s},${yy-s}`, stroke: e[1], 'stroke-width': 8}, g);
    
    
    const t = el('text', {x: tx, y: yy + 14, 'font-size': 40, fill: '#000', 'font-family': '"DejaVu Sans Condensed","DejaVu Sans",sans-serif'}, g);
    t.textContent = e[0];
    
    
  });
}

// ---- Panel 1 ----
const P1 = {top: 298, bottom: 1205, yZero: 1166, k: 75.5};
(function(){
  const ys = makeY(P1);
  const g = el('g', {'clip-path': 'url(#c1)'});
  
  
  function runs(R, color, off, name){
    R.forEach(r => {
      for (let k = r[0]; k <= r[1]; k++) {
        const d = el('ellipse', {cx: xs(21 + (k + 0.5) / 60), cy: ys(r[2] + off), rx: 4.5, ry: 5.5, fill: color}, g);
        
        
      }
    });
  }
  runs(dqDRuns, ORANGE, 0, 'd98-flag-point');
  runs(dqZRuns, BLUE, 0.2, 'zlwp-flag-point');
  drawAxes(P1, dq1Ticks, dq1Ticks.map(String), [['DQ Flag  ', AXBLUE], ['D98 & ', ORANGE], [' Z-LWP', BLUE]], 1);
})();

// ---- Panel 2 ----
const P2 = {top: 1431, bottom: 2336, yZero: 2302, k: 304.8};
(function(){
  const ys = makeY(P2);
  const g = el('g', {'clip-path': 'url(#c2)'});
  
  
  const lo = lwpZ.map((v, i) => v - lwpErrLo[i]);
  const hi = lwpZ.map((v, i) => v + lwpErrHi[i]);
  const ptsD = lwpT.map((t, i) => xs(t).toFixed(1) + ',' + ys(lwpD98[i]).toFixed(1)).join(' ');
  const ptsZ = lwpT.map((t, i) => xs(t).toFixed(1) + ',' + ys(lwpZ[i]).toFixed(1)).join(' ');
  const mwr = el('polyline', {points: ptsD, fill: 'none', stroke: '#A52A2A', 'stroke-width': 10, 'stroke-linejoin': 'round'}, g);
  
  
  const d98 = el('polyline', {points: ptsD, fill: 'none', stroke: ORANGE, 'stroke-width': 10, 'stroke-linejoin': 'round'}, g);
  
  
  const band = el('path', {d: bandPath(lwpT, lo, hi, ys), fill: 'rgb(97,17,97)', 'fill-opacity': 0.4, stroke: 'none'}, g);
  
  
  const z = el('polyline', {points: ptsZ, fill: 'none', stroke: BLUE, 'stroke-width': 10, 'stroke-dasharray': '80 45', 'stroke-linejoin': 'round'}, g);
  
  
  drawAxes(P2, lwpTicks, lwpTickLabels, [['log10 Liquid Water Path, log10(g/m', AXBLUE], ['2', AXBLUE, true], [')', AXBLUE]], 2);
  const lg = el('g', {});
  
  
  const ent = [['MWR Phy Iter', '#A52A2A', null], ['D98 LWP', ORANGE, null], ['Z-LWP LWP', BLUE, '80 49']];
  ent.forEach((e, i) => {
    const y = 2117 + i * 58;
    const ln = el('line', {x1: 2308, x2: 2542, y1: y, y2: y, stroke: e[1], 'stroke-width': 8}, lg);
    if (e[2]) ln.setAttribute('stroke-dasharray', e[2]);
    
    
    const t = el('text', {x: 2567, y: y + 14, 'font-size': 40, fill: '#000', 'font-family': '"DejaVu Sans Condensed","DejaVu Sans",sans-serif'}, lg);
    t.textContent = e[0];
    
    
  });
})();

function scatterPanel(P, clip, name, dLo, dHi, DT, DV, zLo, zHi, ZT, ZV){
  const ys = makeY(P);
  const g = el('g', {'clip-path': clip});
  
  
  const ob = el('path', {d: bandPath(bandT, dLo, dHi, ys), fill: ORANGE, 'fill-opacity': 0.2}, g);
  
  
  drawX(g, DT, DV, ys, ORANGE, 'd98-point');
  const bb = el('path', {d: bandPath(bandT, zLo, zHi, ys), fill: BLUE, 'fill-opacity': 0.2}, g);
  
  
  drawX(g, ZT, ZV, ys, BLUE, 'zlwp-point');
}

// ---- Panel 3 ----
const P3 = {top: 2546, bottom: 3453, yZero: 3453, k: 36.28};
scatterPanel(P3, 'url(#c3)', 'effective-radius-plot', reDLo, reDHi, reDT, reD, reZLo, reZHi, reZT, reZ);
drawAxes(P3, reTicks, reTicks.map(String), [['Effective Radius,\u03BCm', AXBLUE]], 3);
legendX(1927, 3333, 2076, [['D98 Re', ORANGE], ['Z-LWP', BLUE]], 3);

// ---- Panel 4 ----
const P4 = {top: 3671, bottom: 4581, yZero: 4581, k: 1.82};
scatterPanel(P4, 'url(#c4)', 'droplet-concentration-plot', ndDLo, ndDHi, ndDT, ndD, ndZLo, ndZHi, ndZT, ndZ);
drawAxes(P4, ndTicks, ndTicks.map(String), [['Droplet Concentration, #/cc', AXBLUE]], 4);
legendX(2568, 3737, 2711, [['D98 Nd', ORANGE], ['Z-LWP Nd', BLUE]], 4);

// ---- Panel 5 ----
const P5 = {top: 4796, bottom: 5704, yZero: 5704, k: 32.16};
scatterPanel(P5, 'url(#c5)', 'optical-depth-plot', odDLo, odDHi, odDT, odD, odZLo, odZHi, odZT, odZ);
drawAxes(P5, odTicks, odTicks.map(String), [['Optical Depth', AXBLUE]], 5);
legendX(593, 5043, 736, [['D98 OD', ORANGE], ['Z-LWP Nd', BLUE]], 5);
</script>
</body></html>
